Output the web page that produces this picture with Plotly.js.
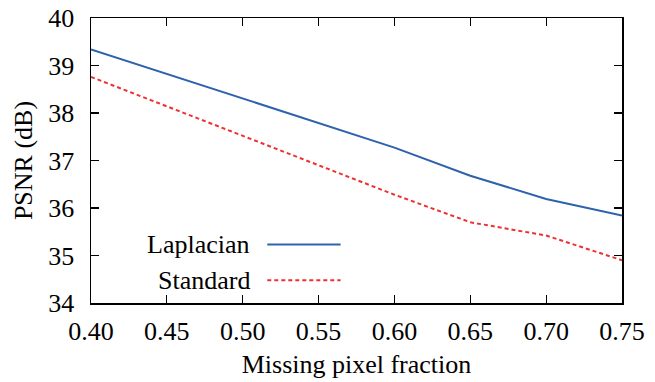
<!DOCTYPE html>
<html><head><meta charset="utf-8">
<script src="https://cdn.plot.ly/plotly-3.0.1.min.js"></script>
<style>html,body{margin:0;padding:0;background:#fff}#c{width:655px;height:382px}</style>
</head><body><div id="c"></div>
<script>
const fractions = [0.40, 0.45, 0.50, 0.55, 0.60, 0.65, 0.70, 0.75];
const laplacian = [39.34, 38.82, 38.30, 37.79, 37.27, 36.68, 36.19, 35.84];
const standard  = [38.76, 38.14, 37.52, 36.90, 36.28, 35.70, 35.42, 34.90];
const seriesNames = ["Laplacian", "Standard"];
const xTicks = [0.40, 0.45, 0.50, 0.55, 0.60, 0.65, 0.70, 0.75];
const yTicks = [34, 35, 36, 37, 38, 39, 40];

const colors = ["#2e62ad", "#ef3030"];
const dashes = ["solid", "4px,3px"];
const font = {family: "'Liberation Serif', 'Times New Roman', serif", size: 26, color: "#000"};

const traces = [
  {x: fractions, y: laplacian, name: seriesNames[0], mode: "lines",
   line: {color: colors[0], width: 2, dash: dashes[0]}},
  {x: fractions, y: standard, name: seriesNames[1], mode: "lines",
   line: {color: colors[1], width: 2, dash: dashes[1]}}
];

const legendY = [0.205, 0.08];
const annotations = seriesNames.map((n, i) => ({
  xref: "paper", yref: "paper", x: 0.303, y: legendY[i], xanchor: "right", yanchor: "middle",
  text: n, showarrow: false, font: font
}));
const shapes = seriesNames.map((n, i) => ({
  type: "line", xref: "paper", yref: "paper", x0: 0.332, x1: 0.47, y0: legendY[i], y1: legendY[i],
  line: {color: colors[i], width: 2, dash: dashes[i]}
}));

const axisCommon = {
  showline: true, linecolor: "#000", linewidth: 1.5, mirror: "allticks",
  ticks: "inside", ticklen: 8, tickwidth: 1.2, tickcolor: "#000",
  showgrid: false, zeroline: false, tickfont: font
};

const layout = {
  width: 655, height: 382,
  margin: {l: 91, r: 33, t: 18, b: 79},
  paper_bgcolor: "#fff", plot_bgcolor: "#fff",
  showlegend: false,
  font: font,
  xaxis: Object.assign({}, axisCommon, {
    range: [0.40, 0.75], tickvals: xTicks, ticktext: xTicks.map(v => v.toFixed(2)),
    ticklabelstandoff: 4,
    title: {text: "Missing pixel fraction", font: font, standoff: 10}
  }),
  yaxis: Object.assign({}, axisCommon, {
    range: [34, 40], tickvals: yTicks, ticktext: yTicks.map(String),
    ticklabelstandoff: 10,
    title: {text: "PSNR (dB)", font: font, standoff: 8}
  }),
  annotations: annotations,
  shapes: shapes
};

Plotly.newPlot("c", traces, layout, {staticPlot: true});
</script>
</body></html>
